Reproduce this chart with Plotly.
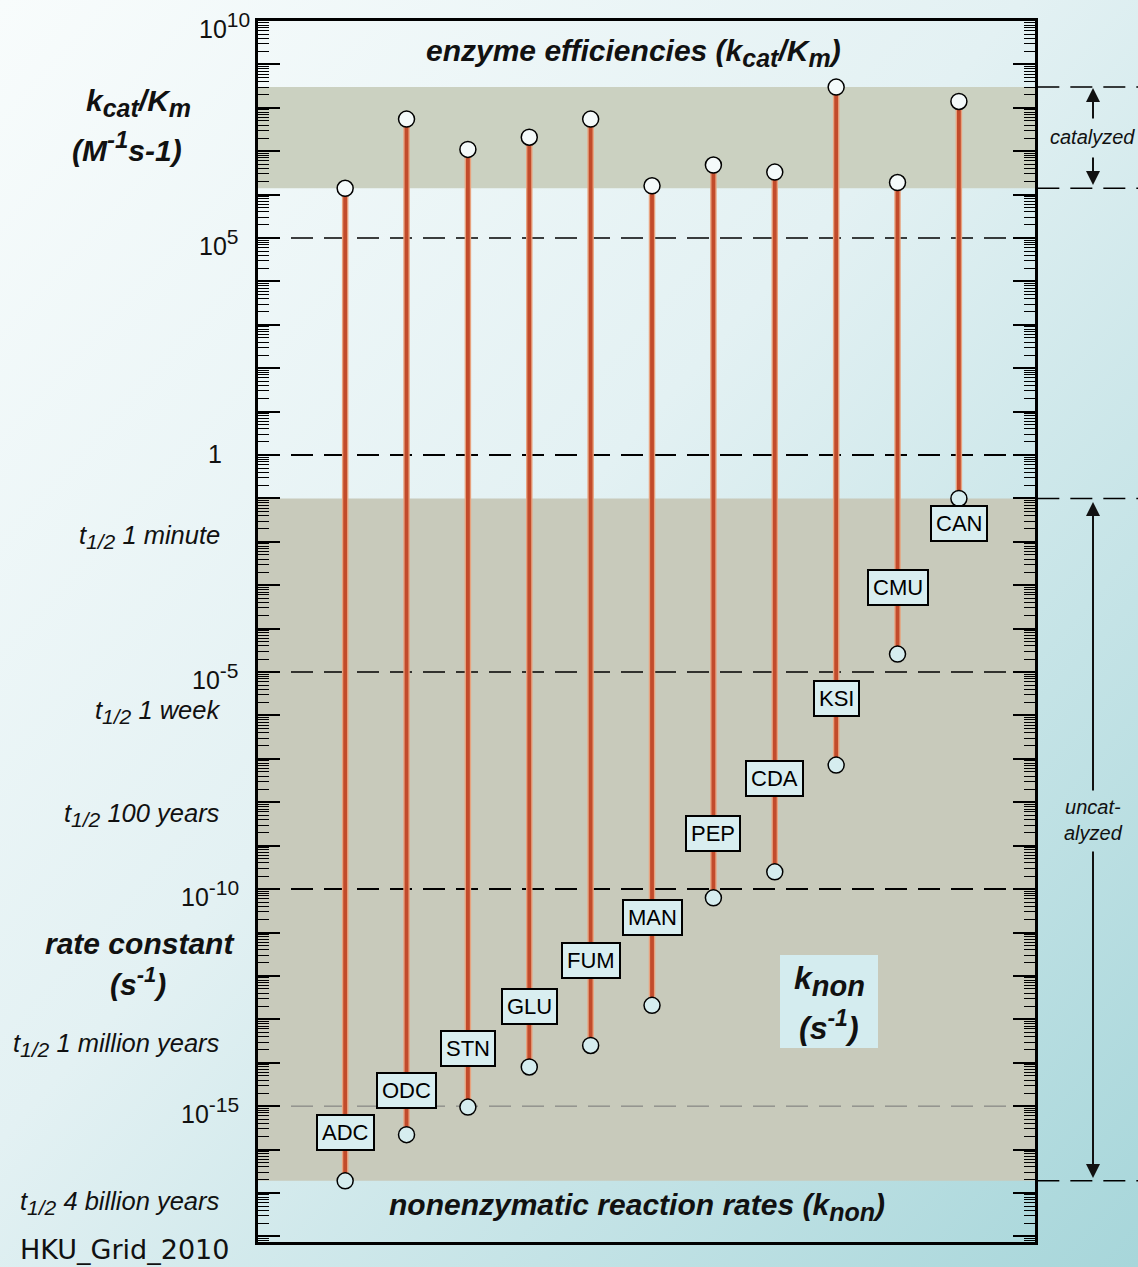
import base64
import math
import plotly.graph_objects as go

# ---------------- data ----------------
enzymes = ["ADC", "ODC", "STN", "GLU", "FUM", "MAN", "PEP", "CDA", "KSI", "CMU", "CAN"]
kcat_km = [1.4e6, 5.5e7, 1.1e7, 2.1e7, 5.5e7, 1.6e6, 4.8e6, 3.3e6, 3.0e8, 1.9e6, 1.4e8]
k_non = [1.9e-17, 2.2e-16, 9.5e-16, 8.0e-15, 2.5e-14, 2.1e-13, 6.3e-11, 2.5e-10, 7.2e-8, 2.6e-5, 1.0e-1]
label_y = [-15.6, -14.65, -13.68, -12.70, -11.64, -10.65, -8.71, -7.45, -5.60, -3.04, -1.57]
decade_vals = [1e10, 1e5, 1, 1e-5, 1e-10, 1e-15]
decade_base = ["10", "10", "1", "10", "10", "10"]
decade_exp = ["10", "5", "", "-5", "-10", "-15"]
halflife_text = ["1 minute", "1 week", "100 years", "1 million years", "4 billion years"]
halflife_exp = [-1.89, -5.92, -8.29, -13.59, -17.23]

# ---------------- geometry helpers ----------------
FW, FH = 1138, 1267
L, R, T, B = 258, 1035, 21, 1242
W, H = R - L, B - T
def px(x):
    return (x - L) / W
def py(y):
    return (B - y) / H

FONT = "Liberation Sans, Arial, Helvetica, sans-serif"

def sub(t, s):
    return "<sub><span style='font-size:%dpx'>%s</span></sub>" % (s, t)
def sup(t, s):
    return "<sup><span style='font-size:%dpx'>%s</span></sup>" % (s, t)

xs = list(range(len(enzymes)))

fig = go.Figure()

# stems
sx, sy = [], []
for i in xs:
    sx += [i, i, None]
    sy += [k_non[i], kcat_km[i], None]
fig.add_trace(go.Scatter(x=sx, y=sy, mode="lines", line=dict(color="#e8a27e", width=6.5),
                         hoverinfo="skip", showlegend=False))
fig.add_trace(go.Scatter(x=sx, y=sy, mode="lines", line=dict(color="#c24b2b", width=3.8),
                         hoverinfo="skip", showlegend=False))
# circles
fig.add_trace(go.Scatter(x=xs, y=kcat_km, mode="markers", showlegend=False,
                         marker=dict(size=16, color="#f4fafa", line=dict(color="black", width=1.5))))
fig.add_trace(go.Scatter(x=xs, y=k_non, mode="markers", showlegend=False,
                         marker=dict(size=16, color="#d6edef", line=dict(color="black", width=1.5))))

shapes = []
# grey bands: span of each series
shapes.append(dict(type="rect", xref="paper", x0=0, x1=1, yref="y", y0=min(kcat_km), y1=max(kcat_km),
                   fillcolor="#cbd1c1", line=dict(width=0), layer="below"))
shapes.append(dict(type="rect", xref="paper", x0=0, x1=1, yref="y", y0=min(k_non), y1=max(k_non),
                   fillcolor="#c8cabb", line=dict(width=0), layer="below"))
# k_non legend box
shapes.append(dict(type="rect", xref="paper", yref="paper", x0=px(780), x1=px(878), y0=py(1048), y1=py(955),
                   fillcolor="#d4ecef", line=dict(width=0), layer="below"))
# decade dashed lines
dash_w = {1e5: 1.5, 1: 2, 1e-5: 1.5, 1e-10: 2, 1e-15: 1}
for v in decade_vals[1:]:
    col = "#777" if v == 1e-15 else "black"
    shapes.append(dict(type="line", xref="paper", x0=0, x1=1, yref="y", y0=v, y1=v,
                       line=dict(color=col, width=dash_w[v], dash="22px,11px"), layer="below"))
# right-hand range markers
for v in [max(kcat_km), min(kcat_km), max(k_non), min(k_non)]:
    shapes.append(dict(type="line", xref="paper", x0=1.003, x1=px(FW + 5), yref="y", y0=v, y1=v,
                       line=dict(color="black", width=1.5, dash="22px,11px")))

ann = []
# enzyme labels
for i, name in enumerate(enzymes):
    ann.append(dict(x=i, y=label_y[i], xref="x", yref="y", text=name, showarrow=False,
                    font=dict(family=FONT, size=22, color="black"), bgcolor="#d9eef0",
                    bordercolor="black", borderwidth=2, borderpad=4))
# decade labels
right_edge = [252, 241, 224, 241, 241, 241]
for v, b, e, re in zip(decade_vals, decade_base, decade_exp, right_edge):
    t = b + (sup(e, 21) if e else "")
    ann.append(dict(x=0, xref="paper", xanchor="right", xshift=re - L, y=math.log10(v), yref="y",
                    yanchor="middle", yshift=-4 if e else 1, text=t, showarrow=False,
                    font=dict(family=FONT, size=25, color="#111")))
# half-life labels
for t, e in zip(halflife_text, halflife_exp):
    ann.append(dict(x=0, xref="paper", xanchor="right", xshift=222 - L, y=e, yref="y",
                    yanchor="middle", text="<i>t" + sub("1/2", 21) + " " + t + "</i>", showarrow=False,
                    font=dict(family=FONT, size=25.5, color="#111")))

def txt(x, y, text, size, **kw):
    d = dict(x=px(x), y=py(y), xref="paper", yref="paper", text=text, showarrow=False,
             xanchor="center", yanchor="middle", font=dict(family=FONT, size=size, color="#111"))
    d.update(kw)
    ann.append(d)

txt(138, 103, "<b><i>k" + sub("cat", 25) + "/K" + sub("m", 25) + "</i></b>", 30)
txt(127, 146, "<b><i>(M" + sup("-1", 24) + "s-1)</i></b>", 30)
txt(140, 943, "<b><i>rate constant</i></b>", 30)
txt(138, 981, "<b><i>(s" + sup("-1", 22) + ")</i></b>", 30)
txt(633, 53, "<b><i>enzyme efficiencies (k" + sub("cat", 25) + "/K" + sub("m", 25) + ")</i></b>", 30)
txt(637, 1207, "<b><i>nonenzymatic reaction rates (k" + sub("non", 25) + ")</i></b>", 30)
txt(829, 981, "<b><i>k" + sub("non", 29) + "</i></b>", 32)
txt(829, 1025, "<b><i>(s" + sup("-1", 23) + ")</i></b>", 32)
txt(124, 1249, "HKU_Grid_2010", 27, font=dict(family="DejaVu Sans, sans-serif", size=27, color="#111"))
txt(1092, 137, "<i>catalyzed</i>", 20)
txt(1093, 820, "<i>uncat-<br>alyzed</i>", 20)

# arrows
AX = px(1093)
def arrow(tip_y, tail_y):
    ann.append(dict(x=AX, y=py(tip_y), xref="paper", yref="paper", text="", showarrow=True,
                    ax=0, ay=tail_y - tip_y, arrowhead=2, arrowsize=1.4, arrowwidth=2,
                    arrowcolor="#111"))
arrow(88, 120)
arrow(185, 156)
arrow(502, 792)
arrow(1178, 850)

# background gradient
svg = ('<svg xmlns="http://www.w3.org/2000/svg" width="1138" height="1267">'
       '<defs><linearGradient id="g" x1="0" y1="0" x2="1" y2="1">'
       '<stop offset="0" stop-color="#f8fcfc"/><stop offset="0.45" stop-color="#e3f1f3"/>'
       '<stop offset="1" stop-color="#a7d6da"/></linearGradient></defs>'
       '<rect width="1138" height="1267" fill="url(#g)"/></svg>')
src = "data:image/svg+xml;base64," + base64.b64encode(svg.encode()).decode()

fig.update_layout(
    width=FW, height=FH,
    margin=dict(l=L, r=FW - R, t=T, b=FH - B, pad=0),
    paper_bgcolor="#d8edf0", plot_bgcolor="rgba(0,0,0,0)",
    showlegend=False,
    shapes=shapes, annotations=ann,
    images=[dict(source=src, xref="paper", yref="paper", x=px(0), y=py(0),
                 sizex=FW / W, sizey=FH / H, sizing="stretch", layer="below")],
    xaxis=dict(range=[-1.42, 11.24], showgrid=False, zeroline=False, showticklabels=False,
               ticks="", showline=True, mirror=True, linecolor="black", linewidth=2.5),
    yaxis=dict(type="log", range=[-18.13, 10.0], showgrid=False, zeroline=False,
               showticklabels=False, tickmode="linear", tick0=0, dtick=1,
               ticks="inside", ticklen=22, tickwidth=1.5, tickcolor="black",
               minor=dict(ticks="inside", ticklen=11, tickwidth=1.2, tickcolor="black", dtick="D1"),
               showline=True, mirror="ticks", linecolor="black", linewidth=2.5),
)

fig.write_html("out.html", config={"displayModeBar": False},
               post_script="document.body.style.margin='0';document.body.style.overflow='hidden';")
